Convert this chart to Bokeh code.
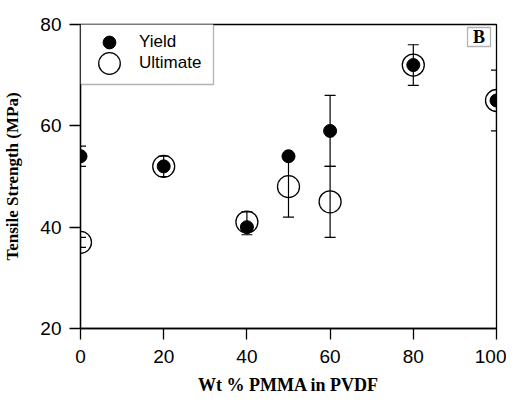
from bokeh.plotting import figure
from bokeh.models import (ColumnDataSource, Whisker, TeeHead, Legend, LegendItem,
                          BoxAnnotation, Label, Range1d, FixedTicker)
from bokeh.embed import file_html
from bokeh.resources import INLINE

# ---- data ----
wt_pmma = [0, 20, 40, 50, 60, 80, 100]
yield_mpa = [54, 52, 40, 54, 59, 72, 65]
yield_lo = [52, 50, 40, 54, 52, 68, 59]
yield_hi = [56, 54, 40, 54, 66, 76, 71]
ult_mpa = [37, 52, 41, 48, 45, 72, 65]
ult_lo = [36, 52, 38.5, 42, 38, 72, 65]
ult_hi = [38, 52, 43, 54, 52, 72, 65]
x_ticks = [0, 20, 40, 60, 80, 100]
y_ticks = [20, 40, 60, 80]

SANS = "Liberation Sans"
SERIF = "Liberation Serif"

p = figure(frame_width=416, frame_height=304, output_backend="svg",
           toolbar_location=None,
           x_range=Range1d(0, 100), y_range=Range1d(20, 80),
           min_border_left=73, min_border_top=24, min_border_right=10,
           min_border_bottom=72)
p.xgrid.visible = False
p.ygrid.visible = False
p.outline_line_color = "black"
p.outline_line_width = 1.3
p.background_fill_color = "white"
p.border_fill_color = "white"

for ax, ticks in ((p.xaxis[0], x_ticks), (p.yaxis[0], y_ticks)):
    ax.ticker = FixedTicker(ticks=ticks)
    ax.major_tick_out = 11
    ax.major_tick_in = 0
    ax.minor_tick_line_color = None
    ax.axis_line_color = "black"
    ax.axis_line_width = 1.3
    ax.major_tick_line_width = 1.3
    ax.major_label_text_font = SANS
    ax.major_label_text_font_size = "19px"
    ax.major_label_text_color = "black"
    ax.axis_label_text_font = SERIF
    ax.axis_label_text_font_style = "bold"
    ax.axis_label_text_color = "black"

p.xaxis.axis_label = "Wt % PMMA in PVDF"
p.xaxis.axis_label_text_font_size = "18px"
p.xaxis.major_label_standoff = 10
p.xaxis.axis_label_standoff = 9
p.yaxis.axis_label = "Tensile Strength (MPa)"
p.yaxis.axis_label_text_font_size = "17px"
p.yaxis.major_label_standoff = 8
p.yaxis.axis_label_standoff = 15

src_y = ColumnDataSource(dict(x=wt_pmma, y=yield_mpa, lo=yield_lo, hi=yield_hi))
src_u = ColumnDataSource(dict(x=wt_pmma, y=ult_mpa, lo=ult_lo, hi=ult_hi))

for src in (src_y, src_u):
    w = Whisker(source=src, base="x", lower="lo", upper="hi",
                line_color="black", line_width=1.2,
                lower_head=TeeHead(size=11, line_color="black", line_width=1.2),
                upper_head=TeeHead(size=11, line_color="black", line_width=1.2))
    p.add_layout(w)

r_ult = p.scatter("x", "y", source=src_u, size=22, marker="circle",
                  fill_color=None, line_color="black", line_width=1.3)
r_yld = p.scatter("x", "y", source=src_y, size=13, marker="circle",
                  fill_color="black", line_color="black")

# legend frame
p.add_layout(BoxAnnotation(left=0, right=133, top=305, bottom=244,
                           left_units="screen", right_units="screen",
                           top_units="screen", bottom_units="screen",
                           fill_color="white", fill_alpha=1,
                           line_color="black", line_width=1.3, level="annotation"))

leg_y = Legend(items=[LegendItem(label="Yield", renderers=[r_yld])],
               location=(13, 270), glyph_width=32, glyph_height=32,
               label_height=32, padding=0, margin=0, spacing=0,
               label_standoff=14, border_line_color=None,
               background_fill_alpha=0, label_text_font=SANS,
               label_text_font_size="17px", label_text_color="black")
leg_u = Legend(items=[LegendItem(label="Ultimate", renderers=[r_ult])],
               location=(2, 238), glyph_width=54, glyph_height=54,
               label_height=54, padding=0, margin=0, spacing=0,
               label_standoff=3, border_line_color=None,
               background_fill_alpha=0, label_text_font=SANS,
               label_text_font_size="17px", label_text_color="black")
p.add_layout(leg_y)
p.add_layout(leg_u)

# panel letter
p.add_layout(BoxAnnotation(left=387, right=410, top=301, bottom=282,
                           left_units="screen", right_units="screen",
                           top_units="screen", bottom_units="screen",
                           fill_color="white", fill_alpha=1,
                           line_color="black", line_width=1.3, level="annotation"))
p.add_layout(Label(x=398.5, y=291.5, x_units="screen", y_units="screen",
                   text="B", text_font=SERIF, text_font_style="bold",
                   text_font_size="18px", text_align="center",
                   text_baseline="middle", text_color="black", level="overlay"))

open("out.html", "w").write(file_html(p, INLINE))
